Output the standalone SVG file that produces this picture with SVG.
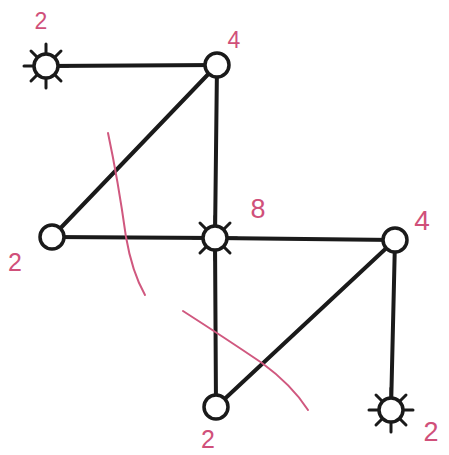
<svg xmlns="http://www.w3.org/2000/svg" width="449" height="455" viewBox="0 0 449 455">
<defs>
<style>
.e{stroke:#1a1a1a;stroke-width:4;stroke-linecap:round;fill:none}
.n{fill:#fff;stroke:#1a1a1a;stroke-width:3.5}
.s{stroke:#1a1a1a;stroke-width:3;stroke-linecap:round}
.cut{stroke:#d0587f;stroke-width:2;fill:none;stroke-linecap:round}
.lbl{font-family:"Liberation Sans",Arial,sans-serif;fill:#d0507a;font-size:23px;text-anchor:middle}
</style>
<g id="spokes">
<line class="s" x1="12" y1="0" x2="22" y2="0"/>
<line class="s" x1="-12" y1="0" x2="-22" y2="0"/>
<line class="s" x1="0" y1="12" x2="0" y2="22"/>
<line class="s" x1="0" y1="-12" x2="0" y2="-22"/>
<line class="s" x1="9" y1="9" x2="15" y2="15"/>
<line class="s" x1="-9" y1="9" x2="-15" y2="15"/>
<line class="s" x1="9" y1="-9" x2="15" y2="-15"/>
<line class="s" x1="-9" y1="-9" x2="-15" y2="-15"/>
</g>
</defs>
<rect width="449" height="455" fill="#fff"/>
<g id="connectors">
<line class="e" x1="46" y1="66" x2="217" y2="65"/>
<line class="e" x1="217" y1="65" x2="52" y2="237"/>
<line class="e" x1="217" y1="65" x2="215" y2="238"/>
<line class="e" x1="52" y1="237" x2="215" y2="238"/>
<line class="e" x1="215" y1="238" x2="395" y2="240"/>
<line class="e" x1="215" y1="238" x2="216" y2="407"/>
<line class="e" x1="395" y1="240" x2="216" y2="407"/>
<line class="e" x1="395" y1="240" x2="391" y2="410"/>
</g>
<g id="cuts">
<path class="cut" d="M108,133 Q118,180 126,237 Q132,272 145,295"/>
<path class="cut" d="M183,311 Q225,338 262,363 Q292,385 308,410"/>
</g>
<g id="nA"><use href="#spokes" x="46" y="66"/><circle class="n" cx="46" cy="66" r="12"/></g>
<g id="nB"><circle class="n" cx="217" cy="65" r="12"/></g>
<g id="nC"><circle class="n" cx="52" cy="237" r="12"/></g>
<g id="nD"><use href="#spokes" x="215" y="238"/><circle class="n" cx="215" cy="238" r="12"/></g>
<g id="nE"><circle class="n" cx="395" cy="240" r="12"/></g>
<g id="nF"><circle class="n" cx="216" cy="407" r="12"/></g>
<g id="nG"><use href="#spokes" x="391" y="410"/><circle class="n" cx="391" cy="410" r="12"/></g>
<g id="labels">
<text class="lbl" x="41" y="29">2</text>
<text class="lbl" x="234" y="48">4</text>
<text class="lbl" x="258" y="218" style="font-size:27px">8</text>
<text class="lbl" x="422" y="230" style="font-size:28px">4</text>
<text class="lbl" x="15" y="271" style="font-size:25px">2</text>
<text class="lbl" x="208" y="448" style="font-size:25px">2</text>
<text class="lbl" x="431" y="441" style="font-size:27px">2</text>
</g>
</svg>
